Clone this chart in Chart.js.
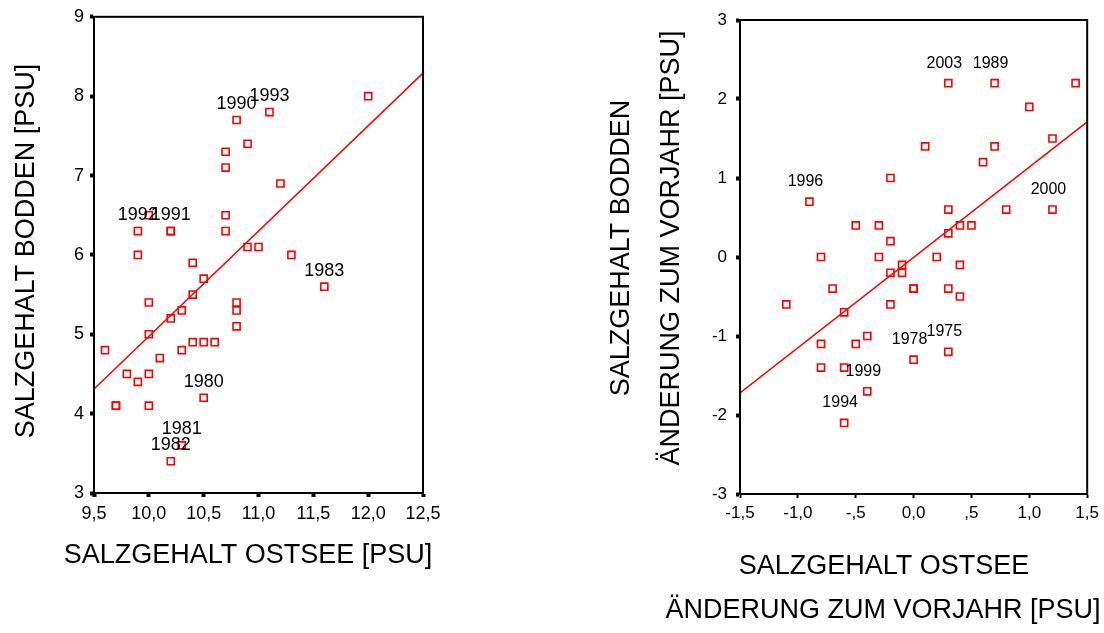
<!DOCTYPE html>
<html>
<head>
<meta charset="utf-8">
<script src="https://cdn.jsdelivr.net/npm/chart.js@4/dist/chart.umd.min.js"></script>
<style>
html,body{margin:0;padding:0;background:#fff;width:1104px;height:633px;overflow:hidden;}
canvas{position:absolute;top:0;}
#c1{left:0;}
#c2{left:552px;}
</style>
</head>
<body>
<canvas id="c1" width="552" height="633"></canvas>
<canvas id="c2" width="552" height="633"></canvas>
<script>
// ---------- DATA: left chart (absolute salinity) ----------
const leftX = [12.0, 11.1, 10.8, 10.9, 10.7, 10.7, 11.2, 10.0, 10.7, 9.9, 10.2, 10.2, 10.7, 10.9, 11.0, 9.9, 11.3, 10.4, 10.5, 11.6, 10.4, 10.0, 10.8, 10.3, 10.8, 10.2, 10.8, 10.0, 10.4, 10.5, 10.6, 9.6, 10.3, 10.1, 9.8, 10.0, 9.9, 10.5, 9.7, 9.7, 10.0, 10.3, 10.2];
const leftY = [8.0, 7.8, 7.7, 7.4, 7.3, 7.1, 6.9, 6.5, 6.5, 6.3, 6.3, 6.3, 6.3, 6.1, 6.1, 6.0, 6.0, 5.9, 5.7, 5.6, 5.5, 5.4, 5.4, 5.3, 5.3, 5.2, 5.1, 5.0, 4.9, 4.9, 4.9, 4.8, 4.8, 4.7, 4.5, 4.5, 4.4, 4.2, 4.1, 4.1, 4.1, 3.6, 3.4];
const leftYears = ['', '1993', '1990', '', '', '', '', '', '', '1992', '1991', '', '', '', '', '', '', '', '', '1983', '', '', '', '', '', '', '', '', '', '', '', '', '', '', '', '', '', '1980', '', '', '', '1981', '1982'];
const leftFitX = [9.5, 12.5];
const leftFitY = [4.31, 8.29];
const leftXTicks = ['9,5', '10,0', '10,5', '11,0', '11,5', '12,0', '12,5'];
const leftYTicks = ['3', '4', '5', '6', '7', '8', '9'];

// ---------- DATA: right chart (change to previous year) ----------
const rightX = [0.3, 0.7, 1.4, 1.0, 1.2, 0.1, 0.7, 0.6, -0.2, -0.9, 0.3, 0.8, 1.2, -0.5, -0.3, 0.4, 0.5, -0.2, 0.3, -0.8, -0.3, 0.2, -0.1, 0.4, -0.2, -0.1, -0.7, 0.0, 0.0, 0.3, 0.4, -1.1, -0.2, -0.6, -0.4, -0.8, -0.5, 0.3, 0.0, -0.8, -0.6, -0.4, -0.6];
const rightY = [2.2, 2.2, 2.2, 1.9, 1.5, 1.4, 1.4, 1.2, 1.0, 0.7, 0.6, 0.6, 0.6, 0.4, 0.4, 0.4, 0.4, 0.2, 0.3, 0.0, 0.0, 0.0, -0.1, -0.1, -0.2, -0.2, -0.4, -0.4, -0.4, -0.4, -0.5, -0.6, -0.6, -0.7, -1.0, -1.1, -1.1, -1.2, -1.3, -1.4, -1.4, -1.7, -2.1];
const rightYears = ['2003', '1989', '', '', '', '', '', '', '', '1996', '', '', '2000', '', '', '', '', '', '', '', '', '', '', '', '', '', '', '', '', '', '', '', '', '', '', '', '', '1975', '1978', '', '', '1999', '1994'];
const rightFitX = [-1.5, 1.5];
const rightFitY = [-1.72, 1.71];
const rightXTicks = ['-1,5', '-1,0', '-,5', '0,0', ',5', '1,0', '1,5'];
const rightYTicks = ['-3', '-2', '-1', '0', '1', '2', '3'];

// ---------- rendering ----------
const FONT = "'Liberation Sans', Arial, sans-serif";
const RED = '#ff0000';

function pts(xs, ys) { return xs.map((x, i) => ({x: x, y: ys[i]})); }

const framePlugin = {
  id: 'frame',
  afterDraw(chart) {
    const a = chart.chartArea, ctx = chart.ctx;
    ctx.save();
    ctx.strokeStyle = '#000';
    ctx.lineWidth = 2;
    ctx.strokeRect(a.left, a.top, a.right - a.left, a.bottom - a.top);
    ctx.restore();
  }
};

const yearLabelPlugin = {
  id: 'yearLabels',
  afterDatasetsDraw(chart, args, opts) {
    const ctx = chart.ctx, xs = chart.scales.x, ys = chart.scales.y;
    ctx.save();
    ctx.font = opts.size + 'px ' + FONT;
    ctx.fillStyle = '#000';
    ctx.textAlign = 'center';
    ctx.textBaseline = 'middle';
    opts.years.forEach((yr, i) => {
      if (!yr) return;
      const px = xs.getPixelForValue(opts.xs[i]) + opts.dx;
      const py = ys.getPixelForValue(opts.ys[i]) - opts.dy;
      ctx.fillText(yr, px, py);
    });
    ctx.restore();
  }
};

const titlePlugin = {
  id: 'titles',
  afterDraw(chart, args, opts) {
    const ctx = chart.ctx;
    ctx.save();
    ctx.fillStyle = '#000';
    ctx.textAlign = 'center';
    ctx.textBaseline = 'middle';
    ctx.font = opts.size + 'px ' + FONT;
    opts.items.forEach(t => {
      ctx.save();
      ctx.translate(t.x, t.y);
      if (t.rot) ctx.rotate(-Math.PI / 2);
      ctx.fillText(t.text, 0, 0);
      ctx.restore();
    });
    ctx.restore();
  }
};

function makeChart(id, cfg) {
  return new Chart(document.getElementById(id), {
    type: 'scatter',
    data: {
      datasets: [
        {
          data: pts(cfg.px, cfg.py),
          pointStyle: 'rect',
          pointRadius: 5,
          pointHoverRadius: 5,
          borderColor: RED,
          backgroundColor: 'rgba(0,0,0,0)',
          pointBorderWidth: 1.6,
          order: 1
        },
        {
          type: 'line',
          data: pts(cfg.fx, cfg.fy),
          borderColor: RED,
          borderWidth: 1.5,
          pointRadius: 0,
          fill: false,
          order: 2
        }
      ]
    },
    options: {
      responsive: false,
      animation: false,
      devicePixelRatio: 1,
      layout: { padding: cfg.padding },
      plugins: {
        legend: { display: false },
        tooltip: { enabled: false },
        yearLabels: { years: cfg.years, xs: cfg.px, ys: cfg.py, size: cfg.labelSize, dx: cfg.labelDx, dy: cfg.labelDy },
        titles: { size: 27, items: cfg.titles }
      },
      scales: {
        x: {
          type: 'linear',
          min: cfg.xmin, max: cfg.xmax,
          afterBuildTicks: s => { s.ticks = cfg.xTickVals.map(v => ({value: v})); },
          afterFit: s => { s.height = cfg.xHeight; },
          ticks: {
            callback: (v, i) => cfg.xTicks[i],
            font: { family: FONT, size: cfg.tickSize },
            color: '#000',
            padding: cfg.xTickPad,
            maxRotation: 0,
            autoSkip: false
          },
          grid: { display: true, drawOnChartArea: false, drawTicks: true, tickLength: 4, tickWidth: cfg.xTickWidth, tickColor: '#000', color: '#000' },
          border: { display: true, color: '#000', width: 2 }
        },
        y: {
          type: 'linear',
          min: cfg.ymin, max: cfg.ymax,
          afterBuildTicks: s => { s.ticks = cfg.yTickVals.map(v => ({value: v})); },
          afterFit: s => { s.width = cfg.yWidth; },
          ticks: {
            callback: (v, i) => cfg.yTicks[i],
            font: { family: FONT, size: cfg.tickSize },
            color: '#000',
            padding: cfg.yTickPad,
            autoSkip: false
          },
          grid: { display: true, drawOnChartArea: false, drawTicks: true, tickLength: 4, tickWidth: 4, tickColor: '#000', color: '#000' },
          border: { display: true, color: '#000', width: 2 }
        }
      }
    },
    plugins: [framePlugin, yearLabelPlugin, titlePlugin]
  });
}

makeChart('c1', {
  px: leftX, py: leftY, years: leftYears, fx: leftFitX, fy: leftFitY,
  xTicks: leftXTicks, yTicks: leftYTicks,
  xTickVals: [9.5, 10, 10.5, 11, 11.5, 12, 12.5], yTickVals: [3, 4, 5, 6, 7, 8, 9],
  xmin: 9.5, xmax: 12.5, ymin: 3, ymax: 9,
  padding: { left: 0, top: 15, right: 129, bottom: 0 },
  yWidth: 94, xHeight: 140,
  tickSize: 18,
  xTickPad: 6, yTickPad: 6, xTickWidth: 4,
  labelSize: 18, labelDx: 0, labelDy: 16,
  titles: [
    { text: 'SALZGEHALT OSTSEE [PSU]', x: 248, y: 556 },
    { text: 'SALZGEHALT BODDEN [PSU]', x: 27, y: 251, rot: true }
  ]
});

makeChart('c2', {
  px: rightX, py: rightY, years: rightYears, fx: rightFitX, fy: rightFitY,
  xTicks: rightXTicks, yTicks: rightYTicks,
  xTickVals: [-1.5, -1, -0.5, 0, 0.5, 1, 1.5], yTickVals: [-3, -2, -1, 0, 1, 2, 3],
  xmin: -1.5, xmax: 1.5, ymin: -3, ymax: 3,
  padding: { left: 0, top: 20, right: 13, bottom: 0 },
  yWidth: 188, xHeight: 139,
  tickSize: 17,
  xTickPad: 5, yTickPad: 9, xTickWidth: 2,
  labelSize: 16, labelDx: -4, labelDy: 20,
  titles: [
    { text: 'SALZGEHALT OSTSEE', x: 332, y: 567 },
    { text: 'ÄNDERUNG ZUM VORJAHR [PSU]', x: 331, y: 611 },
    { text: 'SALZGEHALT BODDEN', x: 70, y: 248, rot: true },
    { text: 'ÄNDERUNG ZUM VORJAHR [PSU]', x: 120, y: 248, rot: true }
  ]
});
</script>
</body>
</html>
